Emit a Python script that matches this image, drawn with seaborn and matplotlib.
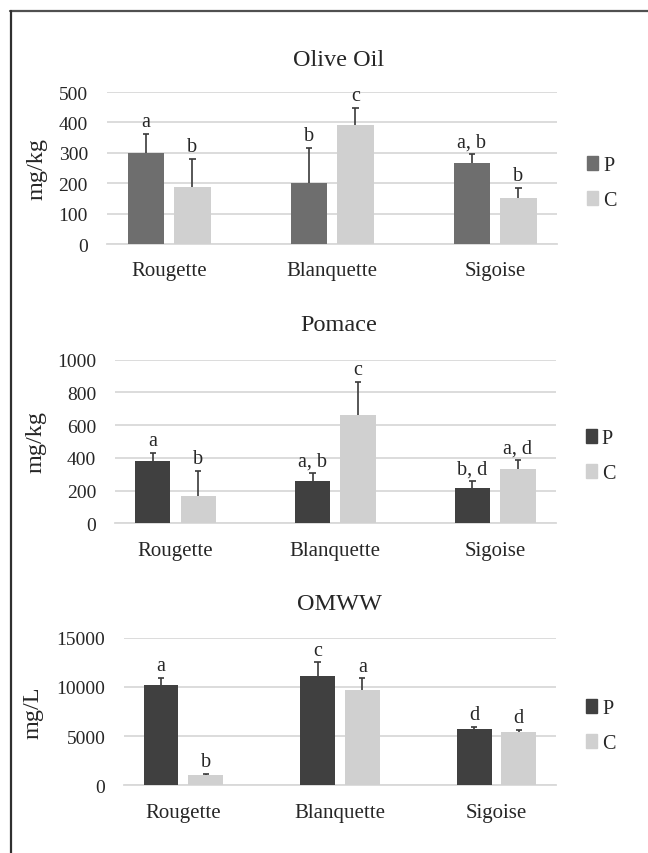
import numpy as np
import pandas as pd
import seaborn as sns
import matplotlib.pyplot as plt
from matplotlib.lines import Line2D
from matplotlib.patches import Patch

cultivars = ["Rougette", "Blanquette", "Sigoise"]
groups = ["P", "C"]

oil_P = [300, 200, 267]
oil_P_err = [62, 116, 28]
oil_C = [188, 392, 151]
oil_C_err = [92, 55, 33]
oil_P_letters = ["a", "b", "a, b"]
oil_C_letters = ["b", "c", "b"]

pomace_P = [383, 257, 216]
pomace_P_err = [47, 50, 44]
pomace_C = [165, 664, 330]
pomace_C_err = [157, 202, 57]
pomace_P_letters = ["a", "a, b", "b, d"]
pomace_C_letters = ["b", "c", "a, d"]

omww_P = [10220, 11140, 5720]
omww_P_err = [710, 1360, 240]
omww_C = [1020, 9650, 5450]
omww_C_err = [130, 1220, 200]
omww_P_letters = ["a", "c", "d"]
omww_C_letters = ["b", "a", "d"]

sns.set_style("white")
plt.rcParams['font.family'] = ['Liberation Serif', 'DejaVu Serif']

W, H = 648, 854
fig = plt.figure(figsize=(6.48, 8.54), dpi=100)

text_col = "#262626"
grid_col = "#d9d9d9"
light = "#d0d0d0"


def px_axes(x0, x1, y0, y1):
    # pixel box, y measured from the top of the figure
    return fig.add_axes([x0 / W, 1 - y1 / H, (x1 - x0) / W, (y1 - y0) / H])


def panel(ax, title, title_y, P, Perr, C, Cerr, Pl, Cl, dark, ymax, step, ylabel,
          ylab_x, ytick_pad, leg_x, leg_y):
    df = pd.DataFrame({
        "cultivar": cultivars * 2,
        "group": ["P"] * 3 + ["C"] * 3,
        "value": P + C,
    })
    sns.barplot(data=df, x="cultivar", y="value", hue="group", order=cultivars,
                hue_order=groups, palette={"P": dark, "C": light}, width=0.57,
                gap=0.22, errorbar=None, linewidth=0, ax=ax, legend=False, zorder=3)
    for cont, errs, letters in zip(ax.containers, [Perr, Cerr], [Pl, Cl]):
        xs = np.array([b.get_x() + b.get_width() / 2 for b in cont])
        ys = np.array([b.get_height() for b in cont])
        tops = ys + np.array(errs)
        # upper-only error bars with a small cap
        ax.vlines(xs, ys, tops, color="#3a3a3a", lw=1.2, zorder=4)
        ax.hlines(tops, xs - 0.02, xs + 0.02, color="#3a3a3a", lw=1.2, zorder=4)
        for x, t, lab in zip(xs, tops, letters):
            ax.annotate(lab, (x, t), xytext=(0, 5.5), textcoords="offset points",
                        ha="center", va="baseline", fontsize=14.5, color=text_col)
    ax.set_ylim(0, ymax)
    ax.set_yticks(np.arange(0, ymax + 1, step))
    ax.yaxis.grid(True, color=grid_col, linewidth=1.3, zorder=0)
    ax.set_axisbelow(True)
    for s in ["top", "right", "left"]:
        ax.spines[s].set_visible(False)
    ax.spines["bottom"].set_color(grid_col)
    ax.spines["bottom"].set_linewidth(1.3)
    ax.tick_params(axis="y", length=0, pad=ytick_pad, labelsize=14, labelcolor=text_col)
    ax.tick_params(axis="x", length=0, pad=12.5, labelsize=15, labelcolor=text_col)
    ax.set_xlabel("")
    ax.set_ylabel(ylabel, fontsize=17.5, color=text_col)
    ax.yaxis.set_label_coords(ylab_x, 0.5)
    handles = [Patch(color=dark, label="P"), Patch(color=light, label="C")]
    ax.legend(handles=handles, loc="center left", bbox_to_anchor=(leg_x, leg_y),
              frameon=False, fontsize=14.5, handlelength=0.55, handleheight=0.7,
              handletextpad=0.25, labelspacing=0.8, borderpad=0, borderaxespad=0,
              labelcolor=text_col)
    fig.text(339 / W, 1 - title_y / H, title, ha="center", va="center",
             fontsize=17.5, color=text_col)


ax1 = px_axes(107.4, 557, 93, 245)
panel(ax1, "Olive Oil", 60, oil_P, oil_P_err, oil_C, oil_C_err, oil_P_letters,
      oil_C_letters, "#6e6e6e", 500, 100, "mg/kg", -0.134, 14, 1.067, 0.4)

ax2 = px_axes(114.9, 555.8, 360.7, 524.3)
panel(ax2, "Pomace", 326, pomace_P, pomace_P_err, pomace_C, pomace_C_err,
      pomace_P_letters, pomace_C_letters, "#404040", 1000, 200, "mg/kg", -0.156, 13.5,
      1.068, 0.412)

ax3 = px_axes(124, 555.8, 638.7, 786.3)
panel(ax3, "OMWW", 605, omww_P, omww_P_err, omww_C, omww_C_err, omww_P_letters,
      omww_C_letters, "#404040", 15000, 5000, "mg/L", -0.187, 13.5, 1.07, 0.402)

# outer frame (only top and left edges show in the original)
fig.add_artist(Line2D([10 / W, 1], [1 - 12 / H, 1 - 12 / H], color="#505050", lw=1.6))
fig.add_artist(Line2D([11 / W, 11 / W], [0, 1 - 12 / H], color="#303030", lw=1.6))

fig.savefig("out.png", dpi=100)
